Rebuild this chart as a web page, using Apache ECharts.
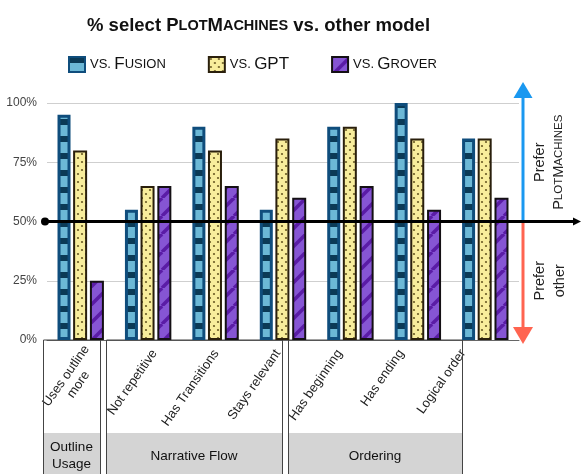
<!DOCTYPE html>
<html><head><meta charset="utf-8">
<script src="https://cdn.jsdelivr.net/npm/echarts@6/dist/echarts.min.js"></script>
<style>html,body{margin:0;padding:0;background:#fff}#c{width:581px;height:474px}</style>
</head><body><div id="c"></div>
<script>
const categories = ['Uses outline\nmore','Not repetitive','Has Transitions','Stays relevant','Has beginning','Has ending','Logical order'];
const seriesNames = ['vs. Fusion','vs. GPT','vs. Grover'];
const fusionValues = [95,55,90,55,90,100,85];
const gptValues = [80,65,80,85,90,85,85];
const groverValues = [25,65,65,60,65,55,60];
const yTicks = [0,25,50,75,100];
const groupNames = ['Outline\nUsage','Narrative Flow','Ordering'];
const referenceValue = 50;

const FONT = 'Liberation Sans, Arial, Helvetica, sans-serif';

function tile(w,h,draw){const c=document.createElement('canvas');c.width=w;c.height=h;draw(c.getContext('2d'),w,h);return c;}
const fusionPat = tile(1,17,g=>{g.fillStyle='#0b3a56';g.fillRect(0,0,1,17);g.fillStyle='#6cb8d6';g.fillRect(0,6,1,11);});
const gptPat = tile(8,8,g=>{g.fillStyle='#f8ed9c';g.fillRect(0,0,8,8);g.fillStyle='#6a5a25';
  [[2,2],[6,6]].forEach(p=>{g.beginPath();g.arc(p[0],p[1],1.1,0,Math.PI*2);g.fill();});});
const groverPat = tile(18,18,g=>{g.fillStyle='#8655d4';g.fillRect(0,0,18,18);g.strokeStyle='#5a1ca6';g.lineWidth=3.5;
  [-18,0,18].forEach(k=>{g.beginPath();g.moveTo(k,18);g.lineTo(k+18,0);g.stroke();});});

const legendLabels = {
  'vs. Fusion':'{s|VS.} {b|F}{s|USION}',
  'vs. GPT':'{s|VS.} {b|GPT}',
  'vs. Grover':'{s|VS.} {b|G}{s|ROVER}'
};

const chart = echarts.init(document.getElementById('c'), null, {renderer:'canvas'});
const option = {
  animation:false,
  textStyle:{fontFamily:FONT},
  title:{
    text:'{b|% select P}{s|LOT}{b|M}{s|ACHINES}{b| vs. other model}',
    left:82, top:11,
    textStyle:{rich:{
      b:{fontSize:18.5,fontWeight:'bold',color:'#111',fontFamily:FONT},
      s:{fontSize:14.5,fontWeight:'bold',color:'#111',fontFamily:FONT}
    }}
  },
  legend:{
    left:68, top:56, padding:0, itemWidth:16, itemHeight:15, itemGap:42, icon:'rect',
    data:seriesNames,
    formatter:n=>legendLabels[n],
    textStyle:{color:'#111',rich:{
      b:{fontSize:17,color:'#111',fontFamily:FONT},
      s:{fontSize:13,color:'#111',fontFamily:FONT}
    }}
  },
  grid:[
    {left:47, right:62, top:103, bottom:134},
    {left:62, width:432, top:103, bottom:134}
  ],
  xAxis:[
    {type:'category', gridIndex:0, data:categories, axisLine:{show:true,lineStyle:{color:'#666'}}, axisTick:{show:false}, axisLabel:{show:false}},
    {type:'category', gridIndex:1, data:categories, axisLine:{show:false}, axisTick:{show:false},
      axisLabel:{interval:0, rotate:55, margin:11,
        formatter:v=>v.split('\n').map(l=>'{c|'+l+'}').join('\n'),
        rich:{c:{align:'center',fontSize:13,color:'#222',fontFamily:FONT,lineHeight:15}}}}
  ],
  yAxis:[
    {type:'value', gridIndex:0, min:yTicks[0], max:yTicks[yTicks.length-1], interval:yTicks[1]-yTicks[0],
      axisLine:{show:false}, axisTick:{show:false},
      axisLabel:{formatter:'{value}%', color:'#444', fontSize:12, margin:10},
      splitLine:{lineStyle:{color:'#cfcfcf',width:1}}},
    {type:'value', gridIndex:1, show:false}
  ],
  series:[
    {name:seriesNames[0], type:'bar', data:fusionValues, barWidth:13, barGap:'30%',
      itemStyle:{color:{image:fusionPat,repeat:'repeat'}, borderColor:'#0f4d7c', borderWidth:3}},
    {name:seriesNames[1], type:'bar', data:gptValues, barWidth:14, barGap:'20%',
      itemStyle:{color:{image:gptPat,repeat:'repeat'}, borderColor:'#2a1f0c', borderWidth:2}},
    {name:seriesNames[2], type:'bar', data:groverValues, barWidth:14, barGap:'20%',
      itemStyle:{color:{image:groverPat,repeat:'repeat'}, borderColor:'#141014', borderWidth:2}}
  ]
};
chart.setOption(option);

const y50 = chart.convertToPixel({yAxisIndex:0}, referenceValue);
const y100 = chart.convertToPixel({yAxisIndex:0}, yTicks[yTicks.length-1]);
const y0 = chart.convertToPixel({yAxisIndex:0}, yTicks[0]);
const ax = 523;
const boxes = [[43,100],[106,282],[288,462]];
const g = [];
boxes.forEach((b,i)=>{
  g.push({type:'rect', shape:{x:b[0],y:433,width:b[1]-b[0],height:60}, style:{fill:'#d4d4d4'}, z:1});
  g.push({type:'rect', shape:{x:b[0]+0.5,y:y0,width:b[1]-b[0],height:160}, style:{fill:null,stroke:'#444',lineWidth:1}, z:2});
  g.push({type:'text', x:(b[0]+b[1])/2, y:456, z:3,
    style:{text:groupNames[i], align:'center', verticalAlign:'middle', fontSize:13.5, lineHeight:17, fill:'#111', fontFamily:FONT}});
});
// reference line at 50%
g.push({type:'line', shape:{x1:45,y1:y50,x2:577,y2:y50}, style:{stroke:'#000',lineWidth:3}, z:100});
g.push({type:'circle', shape:{cx:45,cy:y50,r:4}, style:{fill:'#000'}, z:100});
g.push({type:'polygon', shape:{points:[[573,y50-4],[581,y50],[573,y50+4]]}, style:{fill:'#000'}, z:100});
// vertical arrows
const topTip = y100-21, topBase = y100-5, botTip = y0+4, botBase = y0-13;
g.push({type:'line', shape:{x1:ax,y1:y50,x2:ax,y2:topBase}, style:{stroke:'#1a98f0',lineWidth:3}, z:99});
g.push({type:'polygon', shape:{points:[[ax-9.5,topBase],[ax,topTip],[ax+9.5,topBase]]}, style:{fill:'#1a98f0'}, z:99});
g.push({type:'line', shape:{x1:ax,y1:y50,x2:ax,y2:botBase}, style:{stroke:'#ff6450',lineWidth:3}, z:99});
g.push({type:'polygon', shape:{points:[[ax-10,botBase],[ax,botTip],[ax+10,botBase]]}, style:{fill:'#ff6450'}, z:99});
const richSide = {b:{fontSize:14.5,fill:'#222',fontFamily:FONT}, s:{fontSize:11.5,fill:'#222',fontFamily:FONT}};
const topMid = (y50+y100)/2, botMid = (y50+y0)/2;
[[540,topMid,'{b|Prefer}'],[559,topMid,'{b|P}{s|LOT}{b|M}{s|ACHINES}'],[540,botMid,'{b|Prefer}'],[560,botMid,'{b|other}']].forEach(t=>{
  g.push({type:'text', x:t[0], y:t[1], rotation:Math.PI/2, z:50,
    style:{text:t[2], align:'center', verticalAlign:'middle', rich:richSide, fill:'#222', fontFamily:FONT}});
});
chart.setOption({graphic:g});
</script>
</body></html>
